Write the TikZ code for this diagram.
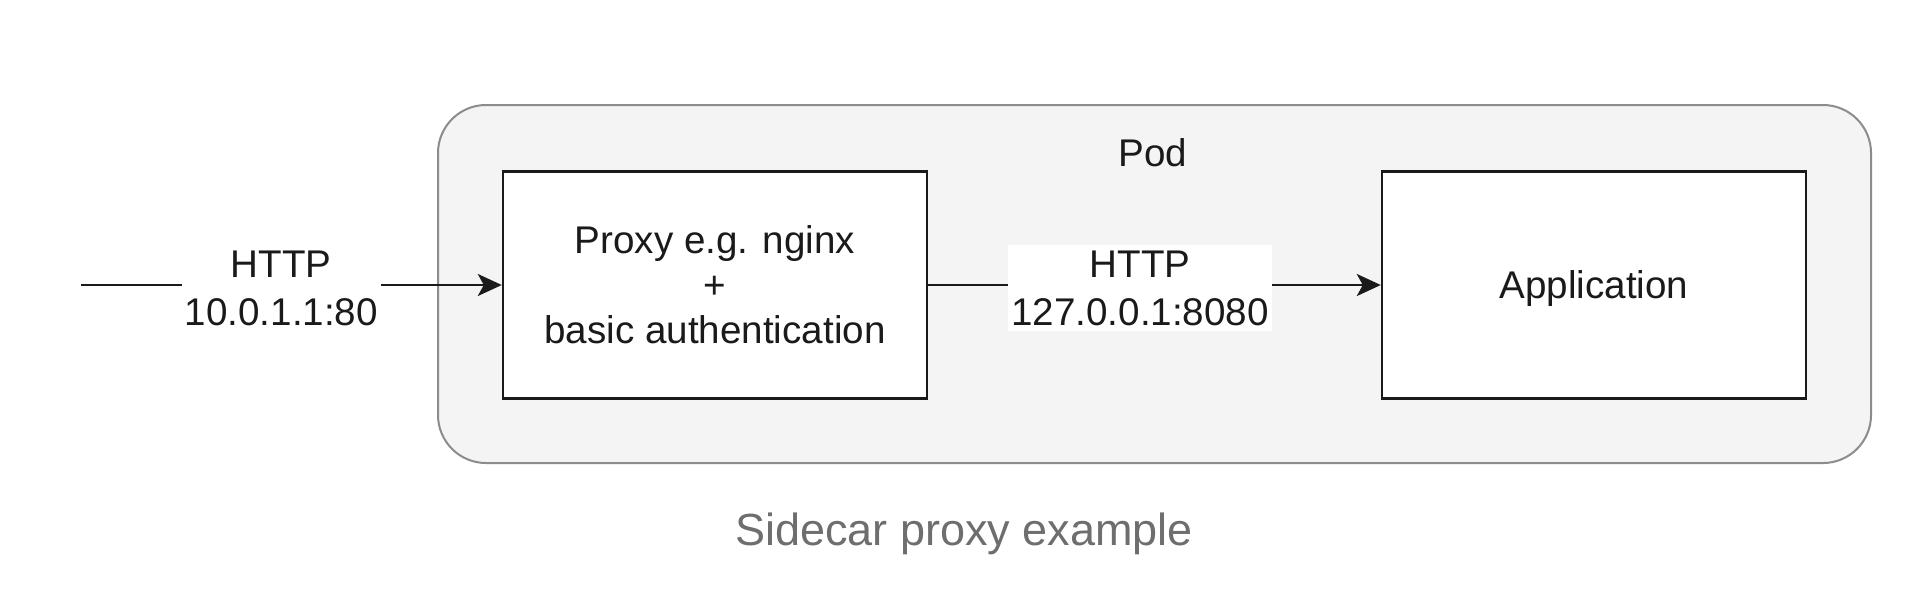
\documentclass[tikz,border=0pt]{standalone}
\usepackage{fontspec}
\setmainfont{Liberation Sans}
\usetikzlibrary{arrows.meta}
\definecolor{podfill}{HTML}{F4F4F4}
\definecolor{podline}{HTML}{8C8C8C}
\definecolor{boxline}{HTML}{1A1A1A}
\definecolor{captiongray}{HTML}{6E6E6E}
\tikzset{
  compbox/.style={draw=boxline, line width=1.2pt, fill=white, minimum width=212pt, minimum height=113.5pt, align=center, inner sep=0pt},
  conn/.style={draw=boxline, line width=1.2pt, -{Stealth[length=12pt,width=11pt,inset=3pt]}},
  connlabel/.style={fill=white, inner xsep=1.5pt, inner ysep=3pt, align=center, font=\fontsize{19.3}{24}\selectfont, text=boxline},
}
\begin{document}
\begin{tikzpicture}[x=0.5pt,y=-0.5pt]
\useasboundingbox[fill=white] (0,0) rectangle (1920,612);
\node[draw=podline, fill=podfill, line width=1pt, rounded corners=24pt, minimum width=716.5pt, minimum height=179pt] (pod) at (1154.5,284) {};
\node[font=\fontsize{19.3}{23.5}\selectfont, text=boxline] (podlabel) at (1153,153) {Pod};
\node[compbox, font=\fontsize{19.3}{22.5}\selectfont, text=boxline] (proxy) at (715,285) {Proxy e.g. nginx\\+\\basic authentication};
\node[compbox, font=\fontsize{19.3}{22.5}\selectfont, text=boxline, text depth=0pt] (app) at (1594,285) {Application};
\coordinate (src) at (81,285);
\draw[conn] (src) -- node[connlabel, pos=0.476, yshift=-1.5pt] (l1) {HTTP\\10.0.1.1:80} (proxy.west);
\draw[conn] (proxy.east) -- node[connlabel, pos=0.468, yshift=-1.5pt] (l2) {HTTP\\127.0.0.1:8080} (app.west);
\node[font=\fontsize{22.5}{27}\selectfont, text=captiongray] (caption) at (964,534) {Sidecar proxy example};
\end{tikzpicture}
\end{document}
